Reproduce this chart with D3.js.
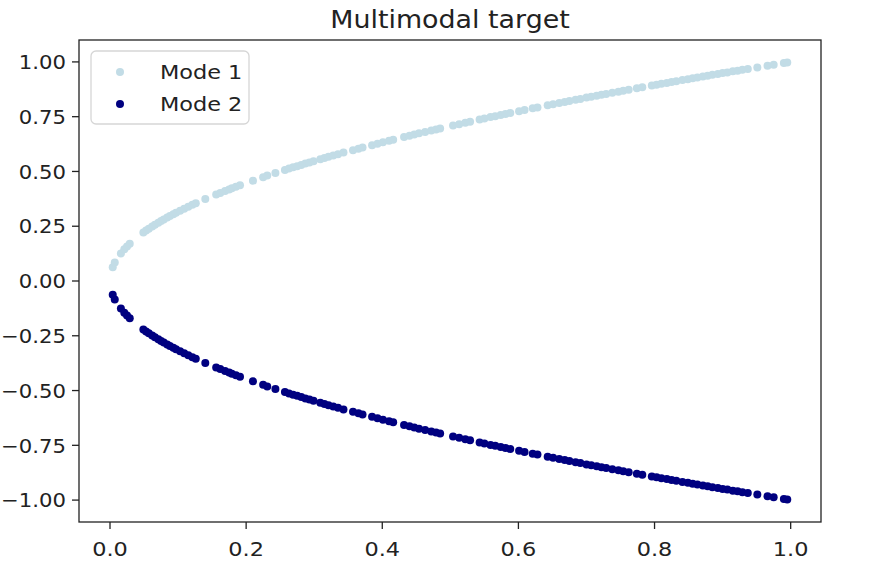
<!DOCTYPE html>
<html>
<head>
<meta charset="utf-8">
<script src="https://cdn.jsdelivr.net/npm/d3@7"></script>
<style>
  body { margin: 0; background: #fff; }
  text { font-family: "DejaVu Sans", sans-serif; fill: #222; }
</style>
</head>
<body>
<div id="chart"></div>
<script>
// sampled x positions (shared by both modes)
var xs = [0.004, 0.007, 0.016, 0.021, 0.025, 0.029,
  0.049, 0.053, 0.057, 0.062, 0.066, 0.071, 0.075, 0.079, 0.084, 0.088, 0.093, 0.097, 0.103, 0.109, 0.115, 0.121, 0.126,
  0.140, 0.156, 0.162, 0.169, 0.175, 0.179, 0.185, 0.191,
  0.210, 0.225, 0.231, 0.243,
  0.257, 0.263, 0.269, 0.275, 0.281, 0.287, 0.293, 0.299,
  0.309, 0.315, 0.321, 0.328, 0.335, 0.343,
  0.357, 0.365, 0.371,
  0.385, 0.393, 0.401, 0.410, 0.416,
  0.432, 0.440, 0.447, 0.454, 0.463, 0.472, 0.479, 0.485,
  0.504, 0.513, 0.522, 0.529,
  0.543, 0.550, 0.559, 0.566, 0.574, 0.581, 0.588,
  0.601, 0.609, 0.621, 0.628,
  0.643, 0.651,
  0.660, 0.668, 0.675, 0.684, 0.691, 0.700, 0.707, 0.715, 0.722, 0.729, 0.738, 0.747, 0.754, 0.762, 0.774, 0.782,
  0.796, 0.803, 0.810, 0.818, 0.825, 0.832, 0.841, 0.849, 0.856, 0.863, 0.871, 0.878, 0.885, 0.893, 0.900, 0.907, 0.915, 0.922, 0.929, 0.937,
  0.951, 0.966, 0.975, 0.990, 0.995];

var mode1Y = [0.063, 0.084, 0.126, 0.145, 0.158, 0.170,
  0.221, 0.230, 0.239, 0.249, 0.257, 0.266, 0.274, 0.281, 0.290, 0.297, 0.305, 0.311, 0.321, 0.330, 0.339, 0.348, 0.355,
  0.374, 0.395, 0.402, 0.411, 0.418, 0.423, 0.430, 0.437,
  0.458, 0.474, 0.481, 0.493,
  0.507, 0.513, 0.519, 0.524, 0.530, 0.536, 0.541, 0.547,
  0.556, 0.561, 0.567, 0.573, 0.579, 0.586,
  0.597, 0.604, 0.609,
  0.620, 0.627, 0.633, 0.640, 0.645,
  0.657, 0.663, 0.669, 0.674, 0.680, 0.687, 0.692, 0.696,
  0.710, 0.716, 0.722, 0.727,
  0.737, 0.742, 0.748, 0.752, 0.758, 0.762, 0.767,
  0.775, 0.780, 0.788, 0.792,
  0.802, 0.807,
  0.812, 0.817, 0.822, 0.827, 0.831, 0.837, 0.841, 0.846, 0.850, 0.854, 0.859, 0.864, 0.868, 0.873, 0.880, 0.884,
  0.892, 0.896, 0.900, 0.904, 0.908, 0.912, 0.917, 0.921, 0.925, 0.929, 0.933, 0.937, 0.941, 0.945, 0.949, 0.952, 0.957, 0.960, 0.964, 0.968,
  0.975, 0.983, 0.987, 0.995, 0.997];

var mode2Y = [-0.063, -0.084, -0.126, -0.145, -0.158, -0.170,
  -0.221, -0.230, -0.239, -0.249, -0.257, -0.266, -0.274, -0.281, -0.290, -0.297, -0.305, -0.311, -0.321, -0.330, -0.339, -0.348, -0.355,
  -0.374, -0.395, -0.402, -0.411, -0.418, -0.423, -0.430, -0.437,
  -0.458, -0.474, -0.481, -0.493,
  -0.507, -0.513, -0.519, -0.524, -0.530, -0.536, -0.541, -0.547,
  -0.556, -0.561, -0.567, -0.573, -0.579, -0.586,
  -0.597, -0.604, -0.609,
  -0.620, -0.627, -0.633, -0.640, -0.645,
  -0.657, -0.663, -0.669, -0.674, -0.680, -0.687, -0.692, -0.696,
  -0.710, -0.716, -0.722, -0.727,
  -0.737, -0.742, -0.748, -0.752, -0.758, -0.762, -0.767,
  -0.775, -0.780, -0.788, -0.792,
  -0.802, -0.807,
  -0.812, -0.817, -0.822, -0.827, -0.831, -0.837, -0.841, -0.846, -0.850, -0.854, -0.859, -0.864, -0.868, -0.873, -0.880, -0.884,
  -0.892, -0.896, -0.900, -0.904, -0.908, -0.912, -0.917, -0.921, -0.925, -0.929, -0.933, -0.937, -0.941, -0.945, -0.949, -0.952, -0.957, -0.960, -0.964, -0.968,
  -0.975, -0.983, -0.987, -0.995, -0.997];

var xTicks = [0.0, 0.2, 0.4, 0.6, 0.8, 1.0];
var yTicks = [1.00, 0.75, 0.50, 0.25, 0.00, -0.25, -0.50, -0.75, -1.00];
var seriesNames = ["Mode 1", "Mode 2"];

// plot box and stretch of the text (picture is a bit wider than tall)
var box = {left: 79, right: 821, top: 40, bottom: 522};
var sx = 1.12;

var svg = d3.select("#chart").append("svg")
    .attr("width", 880)
    .attr("height", 578);

// matplotlib style 5% / 10% margins around the data
var xMin = d3.min(xs), xMax = d3.max(xs), xPad = (xMax - xMin) * 0.05;
var x = d3.scaleLinear()
    .domain([xMin - xPad, xMax + xPad])
    .range([box.left, box.right]);

var y = d3.scaleLinear()
    .domain([-1.1, 1.1])
    .range([box.bottom, box.top]);

var color = d3.scaleOrdinal()
    .domain(seriesNames)
    .range(["#c2dce6", "#000080"]);

// stretched text helper
function stretch(sel, px, py, k) {
    sel.attr("transform", "translate(" + px + "," + py + ") scale(" + (k || sx) + ",1)");
}

// y axis
var yAxis = svg.append("g").attr("class", "axis");
yTicks.forEach(function(t) {
    yAxis.append("line")
        .attr("x1", box.left - 7).attr("x2", box.left)
        .attr("y1", y(t)).attr("y2", y(t))
        .style("stroke", "#222").style("stroke-width", 1.3);
    yAxis.append("text")
        .attr("text-anchor", "end")
        .attr("dy", "0.36em")
        .style("font-size", "20px")
        .text(d3.format(".2f")(t))
        .call(stretch, box.left - 13, y(t), 1.06);
});

// x axis
var xAxis = svg.append("g").attr("class", "axis");
xTicks.forEach(function(t) {
    xAxis.append("line")
        .attr("x1", x(t)).attr("x2", x(t))
        .attr("y1", box.bottom).attr("y2", box.bottom + 7)
        .style("stroke", "#222").style("stroke-width", 1.3);
    xAxis.append("text")
        .attr("text-anchor", "middle")
        .style("font-size", "20px")
        .text(d3.format(".1f")(t))
        .call(stretch, x(t), box.bottom + 34);
});

// points
var modes = [
    {name: "Mode 1", ys: mode1Y},
    {name: "Mode 2", ys: mode2Y}
];

modes.forEach(function(m) {
    svg.append("g").selectAll("circle")
        .data(xs.map(function(v, i) { return {x: v, y: m.ys[i]}; }))
        .enter()
        .append("circle")
            .attr("cx", function(d) { return x(d.x); })
            .attr("cy", function(d) { return y(d.y); })
            .attr("r", 4)
            .style("fill", color(m.name));
});

// frame
svg.append("rect")
    .attr("x", box.left).attr("y", box.top)
    .attr("width", box.right - box.left)
    .attr("height", box.bottom - box.top)
    .style("fill", "none")
    .style("stroke", "#222")
    .style("stroke-width", 1.3);

// title
svg.append("text")
    .attr("text-anchor", "middle")
    .style("font-size", "24px")
    .text("Multimodal target")
    .call(stretch, (box.left + box.right) / 2, 28);

// legend
var legend = svg.append("g");
legend.append("rect")
    .attr("x", 91).attr("y", 51)
    .attr("width", 158).attr("height", 73)
    .attr("rx", 5)
    .style("fill", "#fff")
    .style("fill-opacity", 0.8)
    .style("stroke", "#d6d6d6")
    .style("stroke-width", 1.3);

legend.selectAll("circle")
    .data(seriesNames)
    .enter()
    .append("circle")
        .attr("cx", 120)
        .attr("cy", function(d, i) { return 72 + i * 32; })
        .attr("r", 4)
        .style("fill", function(d) { return color(d); });

legend.selectAll("text")
    .data(seriesNames)
    .enter()
    .append("text")
        .attr("dy", "0.36em")
        .style("font-size", "20px")
        .text(function(d) { return d; })
        .each(function(d, i) { d3.select(this).call(stretch, 160, 72 + i * 32); });
</script>
</body>
</html>
